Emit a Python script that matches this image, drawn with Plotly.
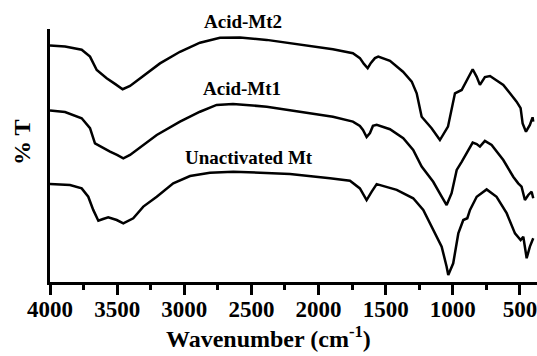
import plotly.graph_objects as go

# FTIR transmittance spectra (arbitrary offset %T) of montmorillonite samples
wn_mt2 = [4000, 3888, 3764, 3702, 3652, 3578, 3516, 3459, 3404, 3330, 3181, 3032, 2883,
          2734, 2585, 2386, 2138, 1893, 1744, 1692, 1662, 1634, 1610, 1580, 1555, 1468,
          1371, 1306, 1269, 1232, 1158, 1096, 1036, 984, 934, 885, 852, 822, 798, 761,
          723, 624, 525, 495, 480, 455, 426, 406, 401]
t_mt2 = [93.5, 93.1, 91.8, 89.1, 83.8, 80.5, 78.3, 76.2, 77.5, 80.5, 86.4, 91.0, 94.6,
         96.5, 96.6, 95.7, 93.7, 92.0, 90.4, 88.5, 86.2, 84.5, 86.6, 88.5, 89.1, 87.4,
         83.1, 79.2, 74.6, 65.3, 60.8, 56.1, 61.4, 74.6, 75.9, 81.1, 84.1, 81.1, 77.9, 81.0,
         81.4, 77.9, 71.3, 68.7, 62.7, 59.4, 62.1, 65.1, 63.4]

wn_mt1 = [4000, 3888, 3764, 3702, 3665, 3615, 3553, 3501, 3454, 3404, 3354, 3205, 3032,
          2883, 2759, 2637, 2386, 2138, 1893, 1744, 1692, 1669, 1642, 1617, 1595, 1567,
          1468, 1369, 1295, 1232, 1146, 1083, 1046, 1009, 971, 934, 897, 852, 822, 798,
          761, 711, 624, 550, 513, 488, 463, 438, 413, 401]
t_mt1 = [67.8, 67.2, 64.7, 60.8, 54.8, 53.2, 51.5, 50.2, 48.9, 50.2, 52.2, 58.1, 63.4,
         67.3, 70.0, 70.4, 69.3, 67.3, 65.3, 63.4, 61.7, 60.1, 57.3, 58.9, 61.7, 62.1,
         60.4, 56.8, 52.2, 45.6, 39.6, 33.7, 30.4, 35.1, 44.3, 47.5, 50.9, 55.1, 54.5, 53.5,
         55.8, 54.2, 48.2, 41.6, 39.0, 37.7, 32.4, 34.4, 35.7, 33.1]

wn_mt = [4000, 3851, 3764, 3715, 3678, 3640, 3605, 3566, 3503, 3454, 3380, 3305, 3205,
         3082, 2957, 2809, 2635, 2362, 2213, 1915, 1766, 1692, 1642, 1604, 1567, 1418,
         1295, 1220, 1146, 1083, 1046, 1034, 997, 959, 922, 892, 872, 822, 748, 674,
         599, 537, 495, 475, 450, 426, 401]
t_mt = [38.7, 38.3, 37.0, 33.7, 28.5, 24.2, 24.9, 25.6, 24.5, 23.2, 25.2, 29.8, 33.7,
        39.0, 41.9, 43.2, 43.6, 43.2, 42.7, 41.0, 40.0, 37.0, 32.4, 35.7, 38.7, 36.4,
        33.1, 28.5, 20.6, 14.0, 6.0, 2.8, 7.4, 19.2, 24.5, 25.2, 28.5, 33.7, 36.6, 33.7,
        27.2, 19.2, 16.6, 17.9, 9.4, 14.0, 17.3]

# name, wavenumbers, transmittance, label position (paper coords)
series = [
    ("Acid-Mt2", wn_mt2, t_mt2, 0.396, 1.028),
    ("Acid-Mt1", wn_mt1, t_mt1, 0.395, 0.763),
    ("Unactivated Mt", wn_mt, t_mt, 0.4076, 0.492),
]

x_ticks = [4000, 3500, 3000, 2500, 2000, 1500, 1000, 500]

serif = "Liberation Serif"

fig = go.Figure()
for name, wn, t, lx, ly in series:
    fig.add_trace(go.Scatter(x=wn, y=t, mode="lines", name=name,
                             line=dict(color="black", width=2.5),
                             showlegend=False, cliponaxis=False))
    fig.add_annotation(x=lx, y=ly, xref="paper", yref="paper", text=name, showarrow=False,
                       font=dict(family=serif, size=19, color="black", weight="bold"),
                       xanchor="center", yanchor="middle")

fig.add_annotation(x=0.4487, y=-0.15, xref="paper", yref="paper",
                   text="Wavenumber (cm<sup>-1</sup>)", showarrow=False,
                   font=dict(family=serif, size=24, color="black", weight="bold"),
                   xanchor="center", yanchor="top")
fig.add_annotation(x=-0.0575, y=0.553, xref="paper", yref="paper",
                   text="% T", showarrow=False, textangle=-90,
                   font=dict(family=serif, size=24, color="black", weight="bold"),
                   xanchor="center", yanchor="middle")

fig.update_xaxes(range=[4000, 373], tickvals=x_ticks, ticktext=[str(v) for v in x_ticks],
                 showline=True, linewidth=3, linecolor="black", mirror=False,
                 ticks="outside", ticklen=10, tickwidth=3, tickcolor="black",
                 ticklabelstandoff=-6, ticklabeloverflow="allow",
                 minor=dict(tickvals=[3750, 3250, 2750, 2250, 1750, 1250, 750],
                            ticks="outside", ticklen=5, tickwidth=3, tickcolor="black"),
                 tickfont=dict(family=serif, size=23, color="black", weight="bold"),
                 showgrid=False, zeroline=False)
fig.update_yaxes(range=[0, 100], showline=True, linewidth=3, linecolor="black",
                 showticklabels=False, ticks="", showgrid=False, zeroline=False)

fig.update_layout(width=537, height=356, margin=dict(l=50, r=0, t=29, b=74),
                  plot_bgcolor="white", paper_bgcolor="white")

fig.write_html("out.html")
